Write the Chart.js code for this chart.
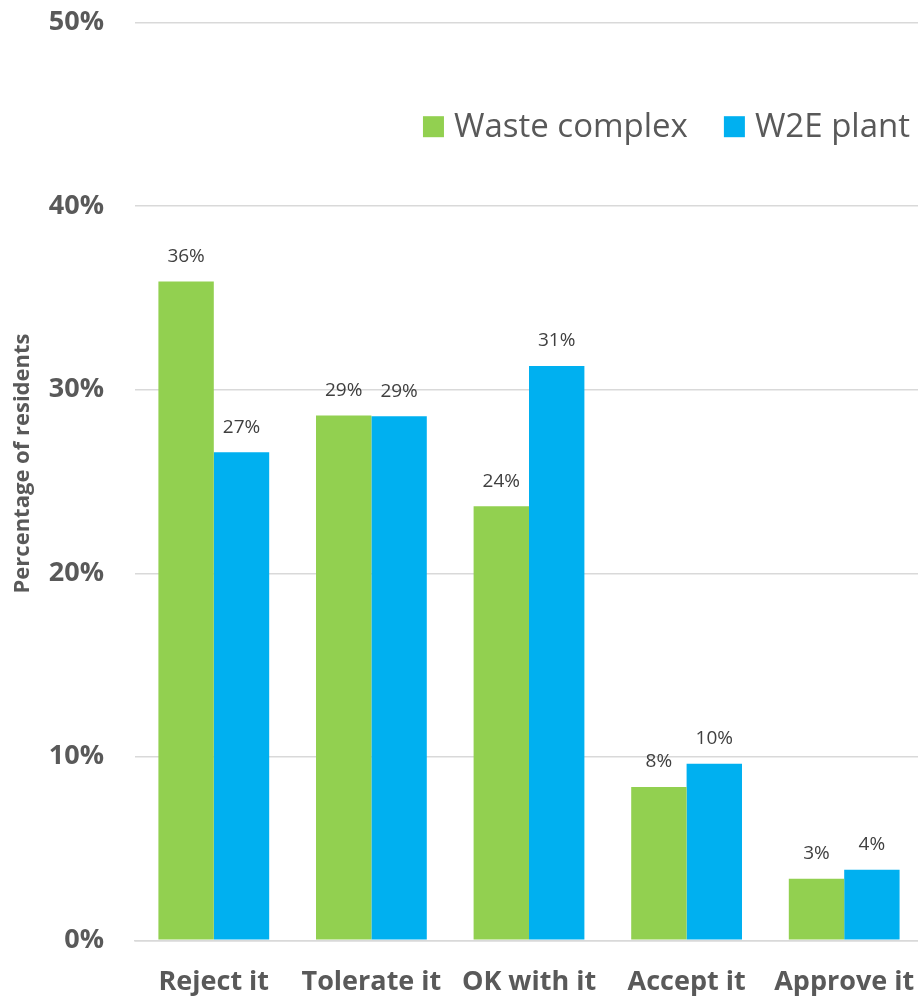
<!DOCTYPE html>
<html>
<head>
<meta charset="utf-8">
<script src="https://cdn.jsdelivr.net/npm/chart.js@4.4.1/dist/chart.umd.min.js"></script>
<style>
  html, body { margin: 0; padding: 0; background: #ffffff; overflow: hidden; }
  #wrap { width: 923px; height: 997px; position: relative; }
</style>
</head>
<body>
<div id="wrap"><canvas id="chart"></canvas></div>
<script>
// Attitude of residents towards each facility
const categories = ['Reject it', 'Tolerate it', 'OK with it', 'Accept it', 'Approve it'];
const seriesNames = ['Waste complex', 'W2E plant'];
const wasteComplex = [35.9, 28.6, 23.65, 8.35, 3.35];
const w2ePlant = [26.6, 28.55, 31.3, 9.62, 3.85];
const yTicks = [0, 10, 20, 30, 40, 50];
const yTitle = 'Percentage of residents';

const GREEN = '#92D050';
const BLUE = '#00B0F0';
const TEXT = '#595959';
const FONT = "'Open Sans', 'DejaVu Sans', sans-serif";

// value labels above each bar
const valueLabels = {
  id: 'valueLabels',
  afterDatasetsDraw(chart) {
    const ctx = chart.ctx;
    ctx.save();
    ctx.font = '19px ' + FONT;
    ctx.fillStyle = '#404040';
    ctx.textAlign = 'center';
    ctx.textBaseline = 'middle';
    chart.data.datasets.forEach((ds, i) => {
      chart.getDatasetMeta(i).data.forEach((bar, j) => {
        ctx.fillText(Math.round(ds.data[j]) + '%', bar.x, bar.y - 25);
      });
    });
    ctx.restore();
  }
};

// legend placed inside the plot, top right
const innerLegend = {
  id: 'innerLegend',
  afterDraw(chart) {
    const ctx = chart.ctx;
    const area = chart.chartArea;
    ctx.save();
    ctx.font = '33px ' + FONT;
    ctx.textBaseline = 'middle';
    ctx.textAlign = 'left';
    const box = 21, gap = 10, between = 36;
    const items = chart.data.datasets.map(ds => ({
      label: ds.label, color: ds.backgroundColor, w: ctx.measureText(ds.label).width
    }));
    let total = 0;
    items.forEach((it, k) => { total += box + gap + it.w + (k ? between : 0); });
    let x = area.right - 13 - total;
    const cy = area.top + 104;
    items.forEach(it => {
      ctx.fillStyle = it.color;
      ctx.fillRect(x, cy - box / 2, box, box);
      ctx.fillStyle = TEXT;
      ctx.fillText(it.label, x + box + gap, cy + 1);
      x += box + gap + it.w + between;
    });
    ctx.restore();
  }
};

// vertical axis title, set a little above the middle of the value axis
const axisTitle = {
  id: 'axisTitle',
  afterDraw(chart) {
    const ctx = chart.ctx;
    const area = chart.chartArea;
    ctx.save();
    ctx.font = 'bold 22px ' + FONT;
    ctx.fillStyle = TEXT;
    ctx.textAlign = 'center';
    ctx.textBaseline = 'middle';
    ctx.translate(23, (area.top + area.bottom) / 2 - 18);
    ctx.rotate(-Math.PI / 2);
    ctx.fillText(yTitle, 0, 0);
    ctx.restore();
  }
};

new Chart(document.getElementById('chart'), {
  type: 'bar',
  data: {
    labels: categories,
    datasets: [
      { label: seriesNames[0], data: wasteComplex, backgroundColor: GREEN },
      { label: seriesNames[1], data: w2ePlant, backgroundColor: BLUE }
    ]
  },
  options: {
    responsive: true,
    maintainAspectRatio: false,
    animation: false,
    devicePixelRatio: 1,
    categoryPercentage: 0.703,
    barPercentage: 1.0,
    layout: { padding: { top: 22.7, left: 0, right: 0, bottom: 0 } },
    plugins: {
      legend: { display: false },
      tooltip: { enabled: false }
    },
    scales: {
      x: {
        grid: { display: false, drawTicks: false },
        border: { color: '#d9d9d9', width: 1.5 },
        ticks: {
          color: TEXT,
          padding: 26,
          maxRotation: 0,
          autoSkip: false,
          font: { family: FONT, size: 27, weight: 'bold' }
        },
        afterFit(scale) {
          scale.height = 56.7;
          scale.paddingLeft = 0;
          scale.paddingRight = 0;
        }
      },
      y: {
        min: 0,
        max: 50,
        afterBuildTicks(scale) { scale.ticks = yTicks.map(v => ({ value: v })); },
        grid: { color: '#d9d9d9', lineWidth: 1.5, drawTicks: false },
        border: { display: false },
        ticks: {
          color: TEXT,
          padding: 31,
          font: { family: FONT, size: 27, weight: 'bold' },
          callback: v => v + '%'
        },
        title: { display: false, text: yTitle },
        afterFit(scale) {
          scale.width = 135;
          scale.paddingTop = 0;
          scale.paddingBottom = 0;
        }
      }
    }
  },
  plugins: [valueLabels, innerLegend, axisTitle]
});
</script>
</body>
</html>
